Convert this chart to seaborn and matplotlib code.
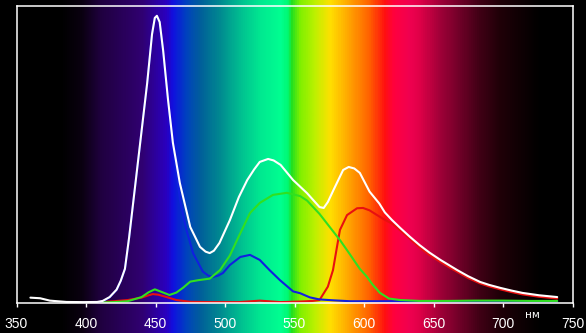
import numpy as np
import pandas as pd
import matplotlib
matplotlib.use("Agg")
import matplotlib.pyplot as plt
from matplotlib.colors import LinearSegmentedColormap
import seaborn as sns

# ---------------- data (wavelength nm, relative intensity %) ----------------
white_wl = [360, 367, 374, 386, 398, 408, 412, 417, 422, 425, 428, 431, 434, 439, 444, 447.5,
            449.5, 451, 453, 455.5, 459, 462.5, 467.5, 475, 482, 486, 489, 492, 496, 503.5,
            510, 516, 521, 525, 531, 535, 540, 549, 559, 568, 571, 574, 578, 585, 589, 593,
            597, 604, 611, 615, 620, 626, 633, 640, 647, 655, 661, 667, 675, 683.5, 690, 698,
            706, 714, 726, 739]
white_val = [1.8, 1.6, 0.8, 0.35, 0.3, 0.35, 0.7, 2.0, 4.5, 7.5, 11.5, 22, 34, 54, 74, 90.5,
             96.0, 96.7, 94.6, 85, 68.5, 54, 40.4, 25.6, 18.9, 17.3, 16.8, 17.6, 20.2, 27.9,
             35.7, 41.4, 45, 47.5, 48.5, 48.0, 46.5, 41.4, 37, 32.3, 32, 34, 38, 44.8, 45.8,
             45.3, 43.8, 37.5, 33.5, 30.5, 28, 25.3, 22.3, 19.5, 17, 14.5, 12.8, 11.1, 9, 7.1,
             6.1, 5.1, 4.2, 3.4, 2.6, 2.0]

blue_wl = [408, 412, 417, 422, 425, 428, 431, 434, 439, 444, 447.5, 449.5, 451, 453, 455.5,
           459, 462.5, 467.5, 472, 477, 484, 488, 491.5, 495, 498.5, 503.5, 511, 518, 525,
           532, 539.5, 549, 554, 561, 568, 578, 590, 620, 660, 700, 739]
blue_val = [0.2, 0.5, 1.9, 4.4, 7.4, 11.4, 21.9, 33.9, 53.9, 73.9, 90.4, 95.8, 96.5, 94.5,
            84.9, 68.3, 53.5, 35, 25, 16.8, 10.6, 9.2, 8.8, 9.2, 10.1, 12.8, 15.5, 16.2, 14.5,
            11.1, 7.7, 3.9, 3.3, 1.9, 1.2, 0.9, 0.6, 0.6, 0.5, 0.5, 0.5]

green_wl = [412, 420, 430, 440, 445, 449.5, 454, 460, 465, 470, 475, 481, 489, 496.5, 503.5,
            510.5, 518, 525, 534.5, 544.5, 554, 559, 568, 575.5, 583, 590, 597, 602, 606,
            611.5, 618, 626, 640, 660, 680, 700, 720, 739]
green_val = [0.2, 0.3, 0.6, 2.0, 3.6, 4.6, 3.8, 2.7, 3.5, 5.2, 7.2, 7.7, 8.2, 11.1, 16, 23,
             30.3, 33.7, 36.4, 37.1, 36, 34.5, 30, 25.5, 21, 16.3, 11.5, 8.9, 6.3, 3.4, 1.5,
             1.0, 0.7, 0.7, 0.8, 0.8, 0.7, 0.7]

red_wl = [410, 420, 430, 440, 445, 448, 452, 458, 465, 475, 490, 510, 525, 540, 555, 563,
          568, 574, 577.7, 580.6, 582.7, 587.8, 595, 599.3, 604, 609.4, 615, 620, 626, 633,
          640, 647, 655, 661, 667, 675, 683.5, 690, 698, 706, 714, 726, 739]
red_val = [0.3, 0.6, 1.0, 1.8, 2.6, 3.0, 2.8, 2.0, 1.0, 0.4, 0.3, 0.3, 0.8, 0.3, 0.5, 0.7,
           1.0, 5.5, 11.1, 19, 24.6, 29.6, 31.9, 32, 31.2, 29.6, 28.0, 26.8, 24.5, 21.6, 18.7,
           16.2, 13.8, 12.1, 10.5, 8.4, 6.6, 5.6, 4.6, 3.7, 2.9, 2.1, 1.5]

tick_values = [350, 400, 450, 500, 550, 600, 650, 700, 750]
unit_label = "нм"

# spectrum background colour stops (wavelength, colour)
spec_wl = [350, 381, 396, 410, 439, 457, 462, 471, 482, 496, 511, 525, 540, 545, 547.5, 554,
           565, 575.5, 590, 604, 615, 622, 633, 640, 655, 669, 683.5, 698, 712, 727, 750]
spec_col = ["#000000", "#000000", "#0a0010", "#200040", "#300070", "#2a00c0", "#1010e0",
            "#0040c0", "#00609a", "#008a90", "#00c090", "#00e890", "#00ff90", "#00f870",
            "#20e020", "#80f000", "#c0f000", "#ffe000", "#ffa000", "#ff6000", "#ff1010",
            "#ff0040", "#f00050", "#e00048", "#a00038", "#700028", "#400015", "#200008",
            "#100004", "#000000", "#000000"]

# ---------------- figure ----------------
sns.set_theme(style="dark")
W, H = 586, 333
fig = plt.figure(figsize=(W / 100, H / 100), dpi=100, facecolor="black")

left = 16.5 / W
width = 556 / W
bottom = 30 / H
height = 297 / H

# background spectrum spanning full figure height
bg = fig.add_axes([left, 0, width, 1])
bg.set_xlim(350, 750)
bg.set_ylim(0, 1)
pos = [(w - 350) / 400 for w in spec_wl]
cmap = LinearSegmentedColormap.from_list("spec", list(zip(pos, spec_col)))
grad = np.linspace(0, 1, 800)[None, :]
bg.imshow(grad, cmap=cmap, aspect="auto", extent=[350, 750, 0, 1], interpolation="bilinear")
bg.axis("off")

ax = fig.add_axes([left, bottom, width, height])
ax.set_facecolor("none")

series = [("red", red_wl, red_val, "#e81010"),
          ("blue", blue_wl, blue_val, "#1020e0"),
          ("green", green_wl, green_val, "#30e020"),
          ("white", white_wl, white_val, "#ffffff")]
for name, wl, val, col in series:
    df = pd.DataFrame({"wl": wl, "val": val})
    sns.lineplot(data=df, x="wl", y="val", ax=ax, color=col, linewidth=1.5, legend=False)

ax.set_xlim(350, 750)
ax.set_ylim(0, 100)
ax.set_xlabel("")
ax.set_ylabel("")
ax.set_yticks([])
ax.set_xticks(tick_values)
ax.set_xticklabels([str(t) for t in tick_values])
ax.grid(False)
for s in ax.spines.values():
    s.set_visible(True)
    s.set_color("white")
    s.set_linewidth(1.1)
ax.tick_params(axis="x", colors="white", direction="out", length=3, width=1,
               pad=7, labelsize=10, bottom=True)
for lab in ax.get_xticklabels():
    lab.set_family(["Liberation Sans", "DejaVu Sans"])
    lab.set_color("white")

fig.text(532 / W, 1 - 314.5 / H, unit_label, color="white", fontsize=7.5,
         ha="center", va="center", family=["DejaVu Sans"])

fig.savefig("out.png", dpi=100, facecolor="black")
